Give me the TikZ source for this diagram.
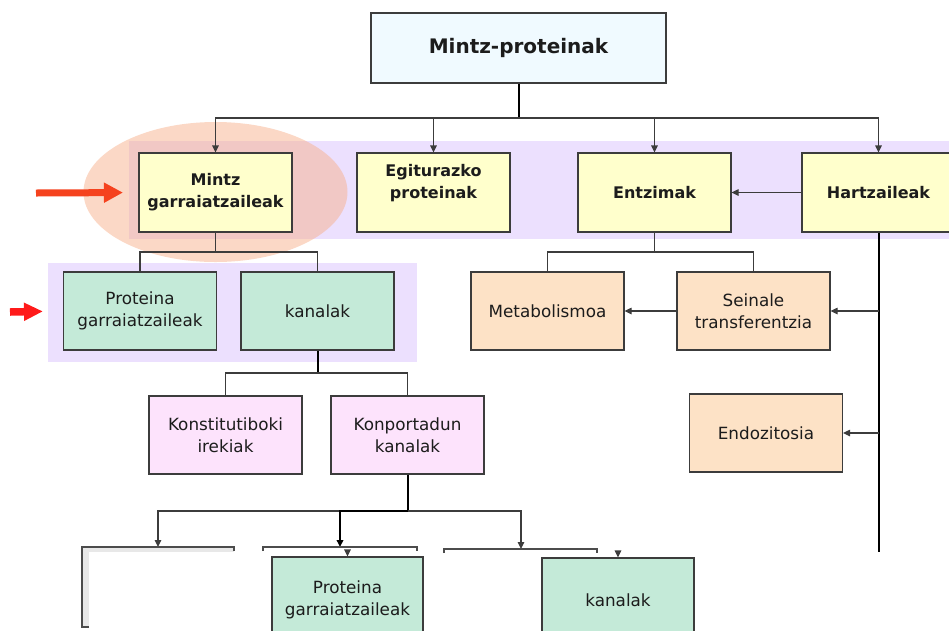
\documentclass[tikz,border=0pt]{standalone}
\usepackage{fontspec}
\setmainfont{DejaVu Sans}
\usetikzlibrary{arrows.meta}
\definecolor{boxline}{HTML}{3C3C3C}
\definecolor{txt}{HTML}{1C1C1C}
\definecolor{topfill}{HTML}{F0FAFF}
\definecolor{yel}{HTML}{FFFFCC}
\definecolor{grn}{HTML}{C4EAD8}
\definecolor{peach}{HTML}{FDE2C6}
\definecolor{pink}{HTML}{FDE3FC}
\definecolor{band}{HTML}{ECE0FE}
\definecolor{ell}{HTML}{F7B18D}
\definecolor{red1}{HTML}{F5421E}
\definecolor{red2}{HTML}{FF1A1A}
\begin{document}
\begin{tikzpicture}[x=1pt,y=-1pt,
  box/.style={draw=boxline, line width=1.1pt, minimum width=153pt, minimum height=78pt,
    inner sep=2pt, align=center, text=txt, font=\fontsize{16.8}{22.5}\selectfont},
  bbox/.style={box, font=\fontsize{16}{22}\selectfont\bfseries},
  bfont/.style={align=center, text=txt, font=\fontsize{16}{22}\selectfont\bfseries, inner sep=0pt},
  thin/.style={draw=boxline, line width=1.1pt},
  thk/.style={draw=black, line width=2pt},
  arr/.style={-{Triangle[length=7pt,width=6.5pt]}},
]
\useasboundingbox (0,0) rectangle (949,630);
\clip (0,0) rectangle (949,630);

% background bands and highlight
\fill[band] (129,141) rectangle (949,239);
\fill[ell, opacity=0.5] (215.5,192) ellipse [x radius=132, y radius=70];
\fill[band] (48,263) rectangle (417,362);

% coordinates of the connector buses
\coordinate (b0) at (518.5,118);
\coordinate (b1) at (215.5,252);
\coordinate (b2) at (317.5,373);
\coordinate (b3) at (654.5,252);
\coordinate (b4) at (407.5,511);
\coordinate (hzend) at (878.5,552);
\coordinate (hzst) at (878.5,311);
\coordinate (hzen) at (878.5,433);
\coordinate (ob1) at (158,547);
\coordinate (ob2) at (340,547);
\coordinate (ob3) at (521,549);
\coordinate (pg2a) at (347.5,551);
\coordinate (kn2a) at (618,552);

% nodes
\node[box, fill=topfill, minimum width=295pt, minimum height=70pt,
      font=\fontsize{20}{24}\selectfont\bfseries] (top) at (518.5,48) {Mintz-proteinak};
\node[bbox, fill=yel, minimum height=79pt] (mg) at (215.5,192.5) {Mintz\\garraiatzaileak};
\node[bbox, fill=yel, minimum height=79pt,
      label={[bfont, yshift=9pt]center:Egiturazko\\proteinak}] (eg) at (433.5,192.5) {};
\node[bbox, fill=yel, minimum height=79pt] (ez) at (654.5,192.5) {Entzimak};
\node[bbox, fill=yel, minimum height=79pt] (hz) at (878.5,192.5) {Hartzaileak};

\node[box, fill=grn] (pg) at (140,311) {Proteina\\garraiatzaileak};
\node[box, fill=grn] (kn) at (317.5,311) {kanalak};
\node[box, fill=peach] (mb) at (547.5,311) {Metabolismoa};
\node[box, fill=peach] (st) at (753.5,311) {Seinale\\transferentzia};

\node[box, fill=pink] (ki) at (225.5,435) {Konstitutiboki\\irekiak};
\node[box, fill=pink] (kk) at (407.5,435) {Konportadun\\kanalak};
\node[box, fill=peach] (en) at (766,433) {Endozitosia};

% connectors, top level
\draw[thk] (top.south) -- (b0);
\draw[thin] (mg.north |- b0) -- (hz.north |- b0);
\draw[thin, arr] (b0) -| (mg.north);
\draw[thin, arr] (b0) -| (eg.north);
\draw[thin, arr] (b0) -| (ez.north);
\draw[thin, arr] (b0) -| (hz.north);
\draw[thin, arr] (hz.west) -- (ez.east);

% Mintz garraiatzaileak children
\draw[thin] (mg.south) -- (b1) -| (pg.north);
\draw[thin] (b1) -| (kn.north);
% kanalak children
\draw[thk] (kn.south) -- (b2);
\draw[thin] (b2) -| (ki.north);
\draw[thin] (b2) -| (kk.north);
% Entzimak children
\draw[thin] (ez.south) -- (b3) -| (mb.north);
\draw[thin] (b3) -| (st.north);
\draw[thin, arr] (st.west) -- (mb.east);
% Hartzaileak branch
\draw[thk] (hz.south) -- (hzend);
\draw[thin, arr] (hzst) -- (st.east);
\draw[thin, arr] (hzen) -- (en.east);

% Konportadun kanalak children
\draw[thk] (kk.south) -- (b4);
\draw[thin] (ob1 |- b4) -- (ob3 |- b4);
\draw[thin, arr] (b4) -| (ob1);
\draw[thk, arr] (b4) -| (ob2);
\draw[thin, arr] (b4) -| (ob3);

% open (cut) boxes at the bottom
\fill[gray!18] (82,547) rectangle (89,627);
\fill[gray!18] (82,547) rectangle (234,552);
\draw[thin, draw=gray!60!black] (89,627) -- (82,627) -- (82,547) -- (234,547) -- (234,551);
\draw[thin, draw=gray!60!black] (263,551) -- (263,547) -- (417,547) -- (417,551);
\draw[thin, draw=gray!60!black] (444,553) -- (444,549) -- (597,549) -- (597,553);

% overlaid bottom boxes
\node[box, fill=grn, minimum width=151pt, minimum height=86pt] (pg2) at (347.5,600) {Proteina\\garraiatzaileak};
\node[box, fill=grn, minimum width=152pt, minimum height=84pt] (kn2) at (618,600) {kanalak};
\draw[thin, arr] (pg2a) -- (pg2.north);
\draw[thin, arr] (kn2a) -- (kn2.north);

% red pointer arrows
\coordinate (ra1) at (36,193);
\coordinate (ra2) at (10,312);
\draw[red1, line width=7pt, shorten >=15.5pt, -{Triangle[length=19pt,width=19pt]}] (ra1) -- (mg.west);
\draw[red2, line width=7.5pt, shorten >=20pt, -{Triangle[length=19pt,width=17pt]}] (ra2) -- (pg.west);
\end{tikzpicture}
\end{document}
